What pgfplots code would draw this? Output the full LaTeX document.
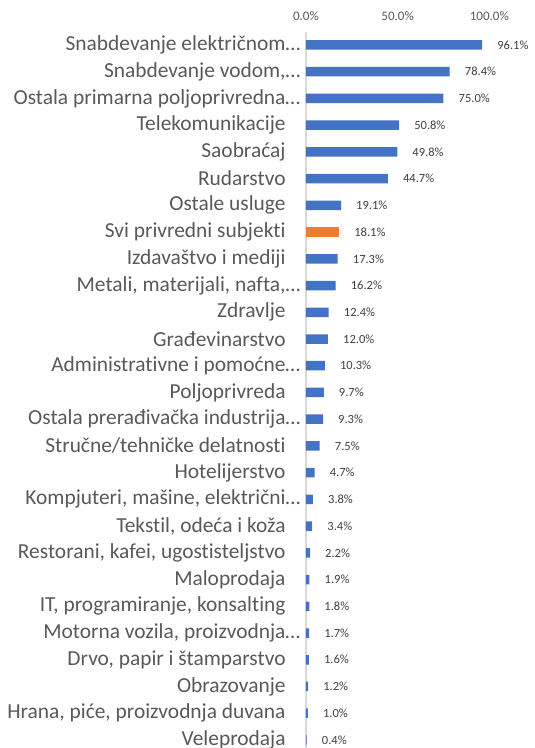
\documentclass[border=0pt]{standalone}
\usepackage{fontspec}
\setmainfont{Carlito}[Ligatures=NoCommon]
\usepackage{pgfplots}
\pgfplotsset{compat=1.18}
\definecolor{barblue}{HTML}{4472C4}
\definecolor{barorange}{HTML}{ED7D31}
\definecolor{txt}{HTML}{595959}
\definecolor{lbl}{HTML}{404040}
\definecolor{axgray}{HTML}{D9D9D9}
\begin{document}
\begin{tikzpicture}
\path[use as bounding box] (0,0) rectangle (535pt,-748pt);
\clip (0,0) rectangle (535pt,-748pt);
\begin{axis}[
  at={(306pt,-31.6pt)}, anchor=north west,
  scale only axis, width=220pt, height=721.7pt,
  xbar, bar width=9.5pt,
  xmin=0, xmax=120, ymin=-0.5, ymax=26.5, y dir=reverse,
  axis y line*=left, axis x line*=top,
  y axis line style={draw=axgray, line width=1.5pt, -},
  x axis line style={draw=none},
  xtick={0,50,100}, xticklabels={0.0\%,50.0\%,100.0\%},
  xticklabel style={font=\fontsize{13}{13}\selectfont, text=txt, yshift=7pt},
  ytick={0,...,26},
  yticklabels={
    {Snabdevanje električnom\rlap{…}},
    {Snabdevanje vodom,\rlap{…}},
    {Ostala primarna poljoprivredna\rlap{…}},
    {Telekomunikacije},
    {Saobraćaj},
    {Rudarstvo},
    {Ostale usluge},
    {Svi privredni subjekti},
    {Izdavaštvo i mediji},
    {Metali, materijali, nafta,\rlap{…}},
    {Zdravlje},
    {Građevinarstvo},
    {Administrativne i pomoćne\rlap{…}},
    {Poljoprivreda},
    {Ostala prerađivačka industrija\rlap{…}},
    {Stručne/tehničke delatnosti},
    {Hotelijerstvo},
    {Kompjuteri, mašine, električni\rlap{…}},
    {Tekstil, odeća i koža},
    {Restorani, kafei, ugostisteljstvo},
    {Maloprodaja},
    {IT, programiranje, konsalting},
    {Motorna vozila, proizvodnja\rlap{…}},
    {Drvo, papir i štamparstvo},
    {Obrazovanje},
    {Hrana, piće, proizvodnja duvana},
    {Veleprodaja}},
  yticklabel style={font=\fontsize{21.4}{21.4}\selectfont, text=txt, inner sep=0pt, anchor=east, xshift=-16pt},
  tick style={draw=none},
  point meta=x,
  nodes near coords={\pgfmathprintnumber[fixed,fixed zerofill,precision=1,assume math mode=true]{\pgfplotspointmeta}\%},
  nodes near coords style={font=\fontsize{12.5}{12.5}\selectfont, text=lbl, anchor=west, inner sep=0pt, xshift=15pt},
]
\addplot[fill=barblue, draw=none, bar shift=0pt] coordinates {
(96.1,0) (78.4,1) (75.0,2) (50.8,3) (49.8,4) (44.7,5) (19.1,6)
(17.3,8) (16.2,9) (12.4,10) (12.0,11) (10.3,12) (9.7,13) (9.3,14) (7.5,15)
(4.7,16) (3.8,17) (3.4,18) (2.2,19) (1.9,20) (1.8,21) (1.7,22) (1.6,23)
(1.2,24) (1.0,25) (0.4,26)};
\addplot[fill=barorange, draw=none, bar shift=0pt] coordinates {(18.1,7)};
\end{axis}
\end{tikzpicture}
\end{document}
